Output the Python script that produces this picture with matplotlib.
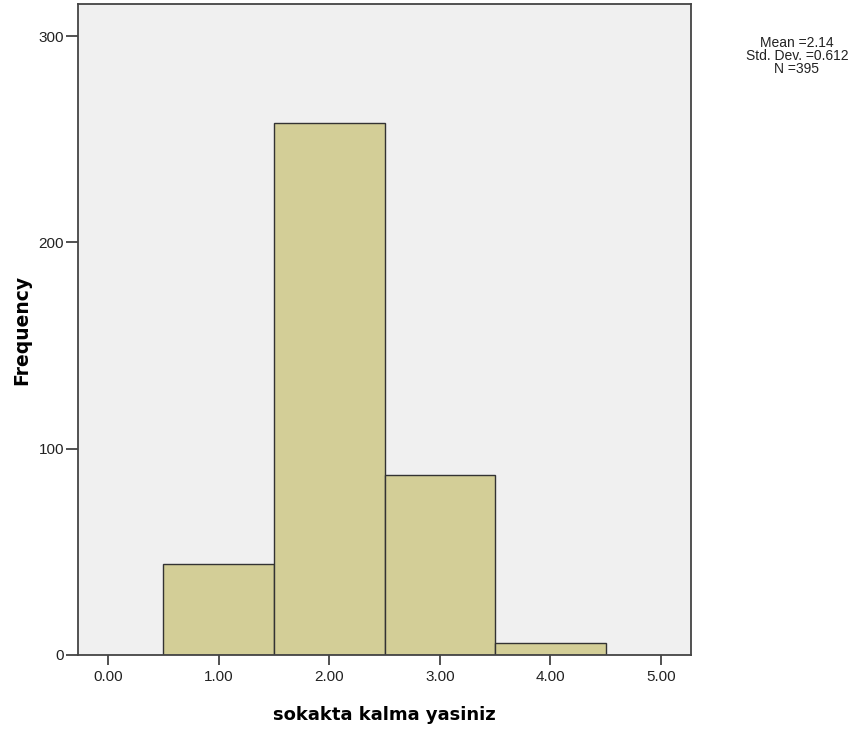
import matplotlib.pyplot as plt
import numpy as np

# histogram bins (values 1..4), counts
degerler = [1, 2, 3, 4]
frekans = [44, 258, 87, 6]
x_ticks = [0, 1, 2, 3, 4, 5]
y_ticks = [0, 100, 200, 300]

fig = plt.figure(figsize=(8.68, 7.31), dpi=100)
ax = fig.add_axes([0.0899, 0.104, 0.7062, 0.8905])
ax.set_facecolor('#F0F0F0')

ax.bar(degerler, frekans, width=1.0, color='#D3CE97', edgecolor='#333333', linewidth=1.0)

ax.set_xlim(-0.27, 5.27)
ax.set_ylim(0, 315.5)
ax.set_xticks(x_ticks)
ax.set_xticklabels(['%.2f' % t for t in x_ticks])
ax.set_yticks(y_ticks)
ax.tick_params(axis='x', direction='out', length=7, width=1.2, color='#333333',
               labelsize=11, pad=4, labelcolor='#222222')
ax.tick_params(axis='y', direction='out', length=9, width=1.2, color='#333333',
               labelsize=11, pad=1, labelcolor='#222222')
for lab in ax.get_xticklabels() + ax.get_yticklabels():
    lab.set_family('Liberation Sans')
for s in ax.spines.values():
    s.set_color('#444444')
    s.set_linewidth(1.3)

ax.set_xlabel('sokakta kalma yasiniz', fontsize=13, fontweight='bold', labelpad=16)
ax.set_ylabel('Frequency', fontsize=13.5, fontweight='bold', labelpad=5)

# istatystyki
x = np.repeat(degerler, frekans)
n = len(x)
tekst = 'Mean =%.2f\nStd. Dev. =%.3f\nN =%d' % (x.mean(), x.std(ddof=1), n)
fig.text(0.918, 0.951, tekst, ha='center', va='top', fontsize=10,
         family='Liberation Sans', linespacing=0.9, color='#222222')

fig.savefig('out.png', dpi=100)
